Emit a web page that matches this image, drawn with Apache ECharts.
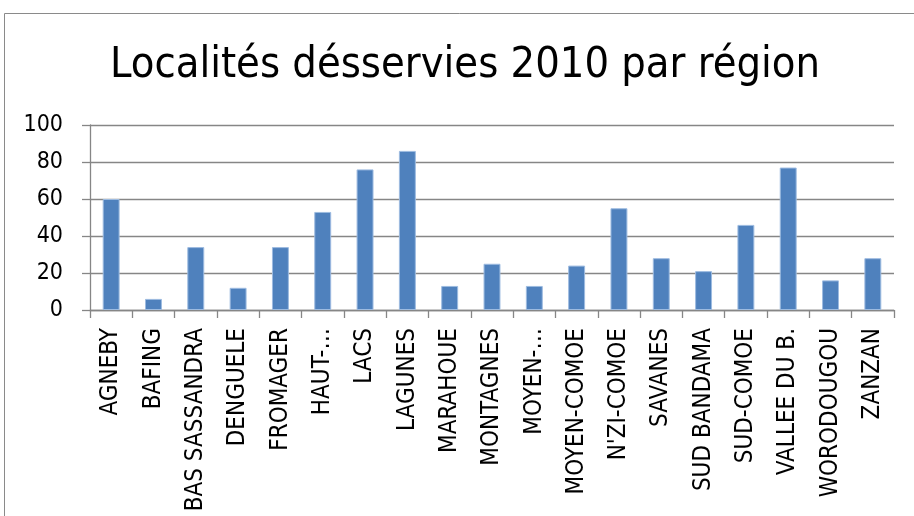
<!DOCTYPE html>
<html>
<head>
<meta charset="utf-8">
<script src="https://cdn.jsdelivr.net/npm/echarts@6/dist/echarts.min.js"></script>
<style>
  html, body { margin: 0; padding: 0; background: #fff; }
  #chart { width: 914px; height: 516px; }
</style>
</head>
<body>
<div id="chart"></div>
<script>
// Regions and number of localities served in 2010
const regions = [
  'AGNEBY', 'BAFING', 'BAS SASSANDRA', 'DENGUELE', 'FROMAGER', 'HAUT-\u2026',
  'LACS', 'LAGUNES', 'MARAHOUE', 'MONTAGNES', 'MOYEN-\u2026', 'MOYEN-COMOE',
  "N'ZI-COMOE", 'SAVANES', 'SUD BANDAMA', 'SUD-COMOE', 'VALLEE DU B.',
  'WORODOUGOU', 'ZANZAN'
];
const localites = [60, 6, 34, 12, 34, 53, 76, 86, 13, 25, 13, 24, 55, 28, 21, 46, 77, 16, 28];
const yTicks = { min: 0, max: 100, step: 20 };

const FONT = '"DejaVu Sans Condensed", "Liberation Sans", sans-serif';

const chart = echarts.init(document.getElementById('chart'), null, { renderer: 'canvas' });

chart.setOption({
  animation: false,
  backgroundColor: '#ffffff',
  title: {
    text: 'Localités désservies 2010 par région',
    left: 460,
    textAlign: 'center',
    top: 39,
    textStyle: { fontFamily: FONT, fontSize: 43, fontWeight: 'normal', color: '#000' }
  },
  graphic: [{
    type: 'rect',
    shape: { x: 4.5, y: 13.5, width: 930, height: 520 },
    style: { fill: 'none', stroke: '#8a8a8a', lineWidth: 1 },
    silent: true
  }],
  grid: { left: 90, right: 20, top: 125, bottom: 206, outerBoundsMode: 'none', containLabel: false },
  xAxis: {
    type: 'category',
    data: regions,
    axisLine: { lineStyle: { color: '#868686', width: 1.3 } },
    axisTick: { show: true, length: 8, lineStyle: { color: '#868686', width: 1.3 } },
    axisLabel: {
      rotate: 90, interval: 0, margin: 18,
      fontFamily: FONT, fontSize: 24, color: '#000'
    }
  },
  yAxis: {
    type: 'value',
    min: yTicks.min, max: yTicks.max, interval: yTicks.step,
    axisLine: { show: true, lineStyle: { color: '#868686', width: 1.3 } },
    axisTick: { show: true, length: 8, lineStyle: { color: '#868686', width: 1.3 } },
    splitLine: { lineStyle: { color: '#868686', width: 1.3 } },
    axisLabel: { margin: 27, fontFamily: FONT, fontSize: 23, color: '#000' }
  },
  series: [{
    type: 'bar',
    data: localites,
    barCategoryGap: '60%',
    itemStyle: { color: '#4f81bd', borderColor: '#9dbbe0', borderWidth: 1 }
  }]
});
</script>
</body>
</html>
